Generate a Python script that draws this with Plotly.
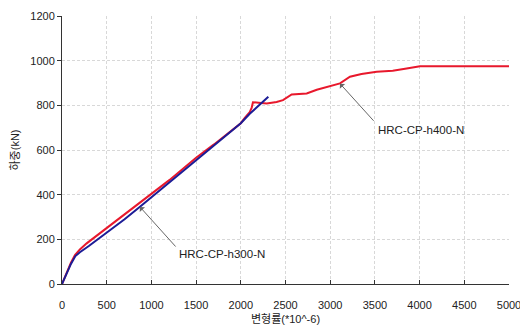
import plotly.graph_objects as go

# HRC-CP-h400-N (red)
h400_x = [0, 50, 100, 145, 200, 276, 400, 574, 700, 872, 1000, 1200, 1320, 1500, 1700,
          1900, 2000, 2047, 2100, 2122, 2136, 2200, 2290, 2400, 2472, 2569, 2650, 2737,
          2850, 3000, 3110, 3221, 3350, 3520, 3700, 3855, 4004, 4500, 5000]
h400_y = [0, 50, 95, 130, 155, 182, 220, 272, 310, 361, 402, 465, 505, 565, 625,
          686, 720, 745, 770, 790, 814, 812, 808, 815, 823, 849, 850, 853,
          870, 885, 898, 928, 940, 950, 955, 965, 975, 975, 975]

# HRC-CP-h300-N (blue)
h300_x = [0, 50, 100, 150, 200, 300, 500, 700, 872, 1000, 1500, 2000, 2100, 2200, 2308]
h300_y = [0, 45, 90, 125, 142, 170, 228, 290, 346, 388, 556, 720, 762, 800, 838]

x_ticks = [0, 500, 1000, 1500, 2000, 2500, 3000, 3500, 4000, 4500, 5000]
y_ticks = [0, 200, 400, 600, 800, 1000, 1200]

FONT = "Liberation Sans, Arial, Noto Sans CJK KR, sans-serif"
TXT = "#222222"

fig = go.Figure()
fig.add_trace(go.Scatter(x=h400_x, y=h400_y, mode="lines",
                         line=dict(color="#e8182c", width=2), name="HRC-CP-h400-N"))
fig.add_trace(go.Scatter(x=h300_x, y=h300_y, mode="lines",
                         line=dict(color="#1c1c96", width=2), name="HRC-CP-h300-N"))

# arrows
fig.add_annotation(x=872, y=345, ax=1286, ay=161, axref="x", ayref="y", xref="x", yref="y",
                   text="", showarrow=True, arrowhead=1, arrowsize=1.2, arrowwidth=1,
                   arrowcolor="#666666")
fig.add_annotation(x=3110, y=897, ax=3501, ay=724, axref="x", ayref="y", xref="x", yref="y",
                   text="", showarrow=True, arrowhead=1, arrowsize=1.2, arrowwidth=1,
                   arrowcolor="#666666")
# labels
fig.add_annotation(x=1290, y=134, xref="x", yref="y", text="HRC-CP-h300-N", showarrow=False,
                   xanchor="left", yanchor="middle", font=dict(size=11.5, color=TXT, family=FONT))
fig.add_annotation(x=3512, y=688, xref="x", yref="y", text="HRC-CP-h400-N", showarrow=False,
                   xanchor="left", yanchor="middle", font=dict(size=11.5, color=TXT, family=FONT))

# the page body adds an 8px offset, so the figure is sized to fill the remaining window
fig.update_layout(
    width=520, height=324,
    margin=dict(l=54, r=19, t=8, b=48),
    paper_bgcolor="white", plot_bgcolor="white",
    showlegend=False,
    font=dict(family=FONT, size=11, color=TXT),
)
fig.update_xaxes(range=[0, 5000], tickvals=x_ticks, showgrid=True, gridcolor="#d8d8d8",
                 griddash="3px,2px", gridwidth=1, showline=True, linecolor="#333", linewidth=1,
                 ticks="inside", ticklen=4, tickcolor="#333", zeroline=False, automargin=False,
                 ticklabelstandoff=11,
                 tickfont=dict(size=11, color=TXT, family=FONT),
                 title=dict(text="변형률(*10^-6)", font=dict(size=11, color=TXT, family=FONT), standoff=5))
fig.update_yaxes(range=[0, 1200], tickvals=y_ticks, showgrid=True, gridcolor="#d8d8d8",
                 griddash="3px,2px", gridwidth=1, showline=True, linecolor="#333", linewidth=1,
                 ticks="outside", ticklen=4, tickcolor="#333", zeroline=False, automargin=False,
                 tickfont=dict(size=11, color=TXT, family=FONT),
                 title=dict(text="하중(kN)", font=dict(size=11, color=TXT, family=FONT), standoff=8))

fig.write_html("out.html")
